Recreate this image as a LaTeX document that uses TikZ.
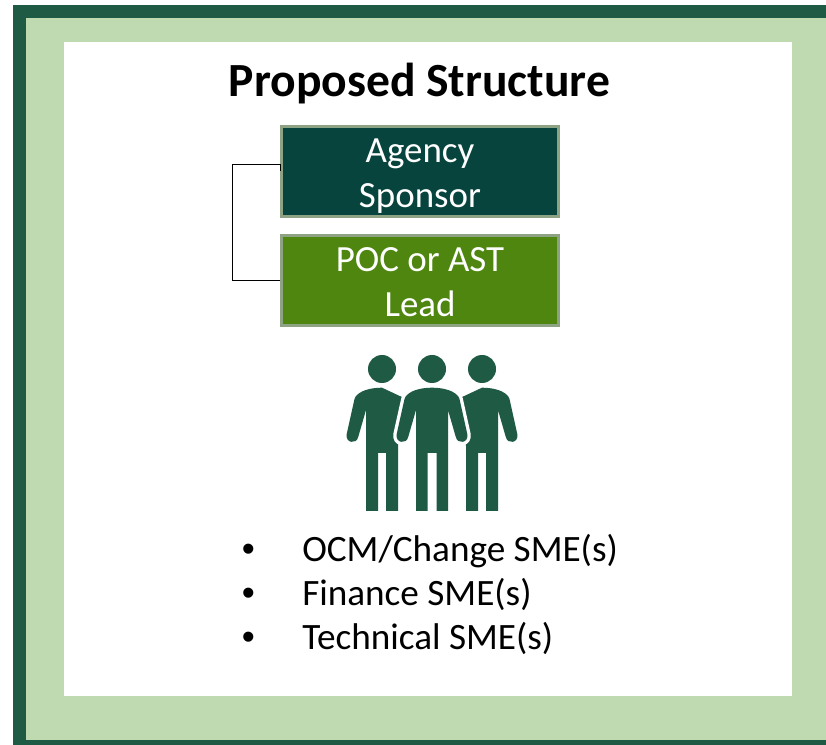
\documentclass[tikz,border=0pt]{standalone}
\usepackage{fontspec}
\setmainfont{Carlito}
\newfontfamily\bulletfont{Liberation Sans}
\usetikzlibrary{positioning}
\definecolor{framegreen}{HTML}{1F5A44}
\definecolor{palegreen}{HTML}{BFDAB0}
\definecolor{sponsorgreen}{HTML}{07443D}
\definecolor{leadgreen}{HTML}{4E8610}
\definecolor{boxedge}{HTML}{8DA383}
\newcommand{\boxstrut}{\rule{0pt}{25.5pt}}
\newcommand{\boxdepth}{\rule[-5.5pt]{0pt}{5.5pt}}
\tikzset{
rolebox/.style={draw=boxedge,line width=2.2pt,text=white,minimum width=207.5pt,minimum height=67.5pt,inner sep=0pt,align=center,font=\fontsize{27.7}{33.75}\selectfont},
listline/.style={anchor=base west,inner sep=0pt,font=\fontsize{27.9}{33}\selectfont},
}
\begin{document}
\begin{tikzpicture}[x=0.75pt,y=-0.75pt]
\useasboundingbox (0,0) rectangle (826,745);
%% frame
\fill[framegreen] (13,5) rectangle (826,745);
\fill[palegreen] (25.7,17.7) rectangle (826,740);
\fill[white] (64,42) rectangle (792,696);

\node[anchor=base,inner sep=0pt,font=\fontsize{35.7}{42}\selectfont\bfseries] (title) at (419.5,96.5) {Proposed Structure};

\node[rolebox,fill=sponsorgreen] (agency) at (420,171.2) {\boxstrut Agency\\Sponsor\boxdepth};
\node[rolebox,fill=leadgreen] (poc) at (420,280.2) {\boxstrut POC or AST\\Lead\boxdepth};
\draw[line width=0.8pt] (agency.west) -- ++(0,-7) -- ++(-47.5,0) |- (poc.west);

%% people, the two behind
\foreach \x/\s in {382/1,482/-1}{
\begin{scope}[shift={(\x,0)},xscale=\s]
\fill[framegreen] (-14,369) arc(180:-180:14);
\fill[framegreen] (0,387.7) .. controls (-10,387.7) and (-20,390) .. (-25,395) .. controls (-26,396) and (-27,397) .. (-27.5,399) -- (-35.3,434) .. controls (-37,443) and (-25.5,445) .. (-23.7,436.7) -- (-16,410) -- (-16,511) -- (-4,511) -- (-4,453) -- (4,453) -- (4,511) -- (16,511) -- (16,446) -- (22,398) -- cycle;
\end{scope}
}
%% people, the one in front
\begin{scope}[shift={(432,0)}]
\fill[framegreen] (-14,369) arc(180:-180:14);
\fill[framegreen,preaction={draw=white,line width=5pt}] (0,387.7) .. controls (-10,387.7) and (-20,390) .. (-25,395) .. controls (-26,396) and (-27,397) .. (-27.5,399) -- (-35.3,434) .. controls (-37,443) and (-25.5,445) .. (-23.7,436.7) -- (-16,410) -- (-16,511) -- (-4.5,511) -- (-4.5,453) -- (4.5,453) -- (4.5,511) -- (16,511) -- (16,410) -- (23.7,436.7) .. controls (25.5,445) and (37,443) .. (35.3,434) -- (27.5,399) .. controls (27,397) and (26,396) .. (25,395) .. controls (20,390) and (10,387.7) .. (0,387.7) -- cycle;
\end{scope}

%% list
\foreach \y/\n/\t in {562/ocm/{OCM/Change SME(s)},606/finance/{Finance SME(s)},650/technical/{Technical SME(s)}}{
\node[listline,font=\bulletfont\fontsize{27.9}{33}\selectfont] (bullet\n) at (241.5,\y) {•};
\node[listline] (\n) at (302,\y) {\t};
}
\end{tikzpicture}
\end{document}
